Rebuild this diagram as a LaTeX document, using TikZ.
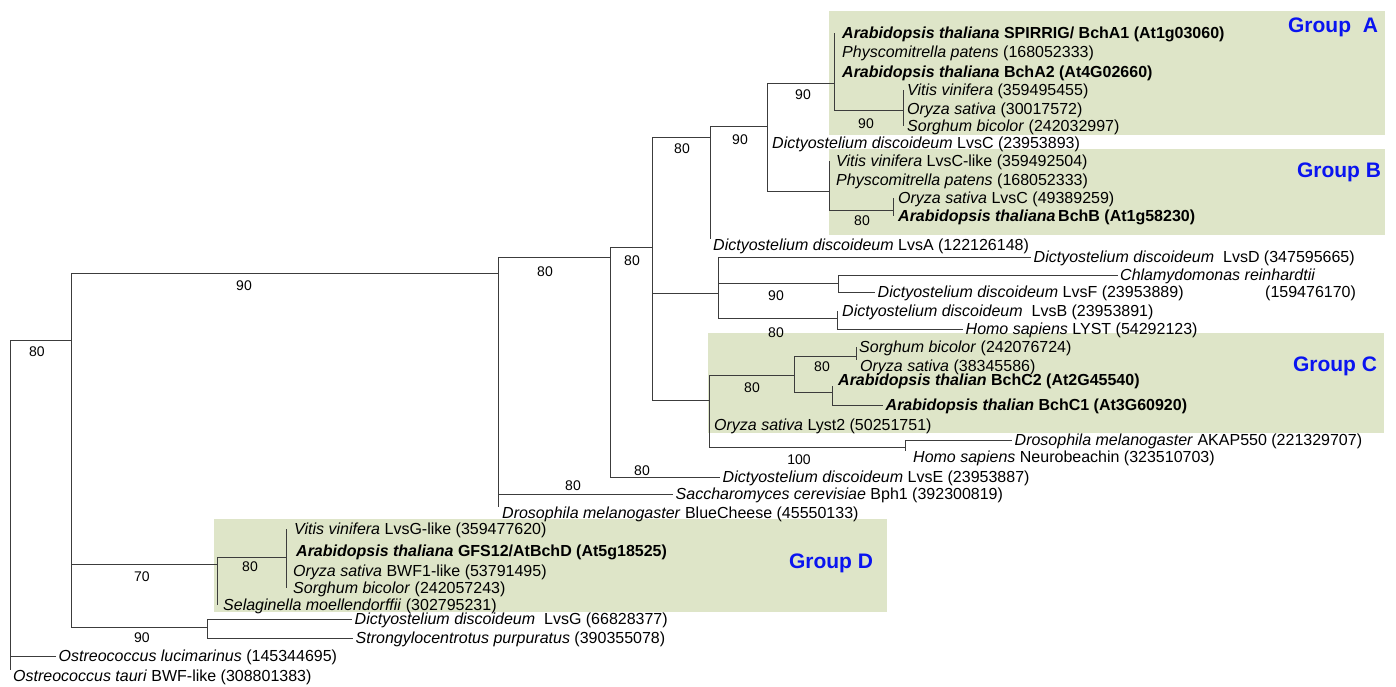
\documentclass[tikz,border=0pt]{standalone}
\usepackage{fontspec}
\setmainfont{Liberation Sans}
\definecolor{linec}{HTML}{3C3C3C}
\definecolor{grp}{HTML}{DEE5C8}
\definecolor{grpblue}{HTML}{0A14F0}
\newcommand{\spn}[1]{\textit{#1}}
\tikzset{
 br/.style={draw=linec, line width=0.95pt},
 leaf/.style={anchor=west, inner xsep=2.5pt, inner ysep=0pt, text height=11.5pt, text depth=0pt, font=\fontsize{16}{19}\selectfont},
 bleaf/.style={leaf, font=\fontsize{16}{19}\selectfont\bfseries},
 bs/.style={inner sep=0pt, font=\fontsize{14}{16}\selectfont},
 grplab/.style={inner sep=0pt, text=grpblue, font=\fontsize{21}{24}\selectfont\bfseries},
}
\begin{document}
\begin{tikzpicture}[x=1pt,y=-1pt]
\useasboundingbox (0,0) rectangle (1396,687);
\fill[white] (0,0) rectangle (1396,687);
% group boxes
\fill[grp] (829,11) rectangle (1385,135);
\fill[grp] (829,149) rectangle (1385,235);
\fill[grp] (708,333) rectangle (1384,433);
\fill[grp] (214,519) rectangle (887,612);
% group labels
\node[grplab] (gA) at (1333,27) {Group\ \ A};
\node[grplab] (gB) at (1339,172) {Group B};
\node[grplab] (gC) at (1335,366) {Group C};
\node[grplab] (gD) at (831,563) {Group D};
% internal nodes
\coordinate (r) at (10,340);
\coordinate (n1) at (71,340);
\coordinate (n2) at (498,273);
\coordinate (n3) at (610,257);
\coordinate (n4) at (652,247);
\coordinate (n7) at (710,137);
\coordinate (n8) at (767,126);
\coordinate (n9) at (834,83);
\coordinate (n10) at (903,110);
\coordinate (n11) at (829,191);
\coordinate (n12) at (893,210);
\coordinate (n5) at (718,293);
\coordinate (n13) at (838,283);
\coordinate (n14) at (837,318);
\coordinate (n6) at (709,400);
\coordinate (n15) at (794,375);
\coordinate (n16) at (856,356);
\coordinate (n17) at (832,392);
\coordinate (n18) at (905,447);
\coordinate (d1) at (217,564);
\coordinate (d2) at (286,557);
\coordinate (ng) at (207,627);
% leaves: group A
\node[bleaf] (a1) at (839.5,33) {\spn{Arabidopsis thaliana} SPIRRIG/ BchA1 (At1g03060)};
\node[leaf] (a2) at (839.5,52) {\spn{Physcomitrella patens} (168052333)};
\node[bleaf] (a3) at (839.5,72) {\spn{Arabidopsis thaliana} BchA2 (At4G02660)};
\node[leaf] (a4) at (904.5,90) {\spn{Vitis vinifera} (359495455)};
\node[leaf] (a5) at (904.5,109) {\spn{Oryza sativa} (30017572)};
\node[leaf] (a6) at (904.5,126) {\spn{Sorghum bicolor} (242032997)};
\node[leaf] (lvsc) at (769.5,143) {\spn{Dictyostelium discoideum} LvsC (23953893)};
% group B
\node[leaf] (b1) at (833.5,161) {\spn{Vitis vinifera} LvsC-like (359492504)};
\node[leaf] (b2) at (833.5,180) {\spn{Physcomitrella patens} (168052333)};
\node[leaf] (b3) at (895.5,198) {\spn{Oryza sativa} LvsC (49389259)};
\node[bleaf] (b4) at (895.5,216) {\spn{Arabidopsis thaliana}\,BchB (At1g58230)};
% middle
\node[leaf] (lvsa) at (710.5,245) {\spn{Dictyostelium discoideum} LvsA (122126148)};
\node[leaf] (lvsd) at (1031,257) {\spn{Dictyostelium discoideum}\ \ LvsD (347595665)};
\node[leaf] (chl) at (1117.5,275) {\spn{Chlamydomonas reinhardtii}};
\node[leaf] (chl2) at (1262.5,292) {(159476170)};
\node[leaf] (lvsf) at (875,292) {\spn{Dictyostelium discoideum} LvsF (23953889)};
\node[leaf] (lvsb) at (839.5,311) {\spn{Dictyostelium discoideum}\ \ LvsB (23953891)};
\node[leaf] (lyst) at (963,329) {\spn{Homo sapiens} LYST (54292123)};
% group C
\node[leaf] (c1) at (856.5,347) {\spn{Sorghum bicolor} (242076724)};
\node[leaf] (c2) at (857.5,366) {\spn{Oryza sativa} (38345586)};
\node[bleaf] (c3) at (835.5,380) {\spn{Arabidopsis thalian} BchC2 (At2G45540)};
\node[bleaf] (c4) at (883,405) {\spn{Arabidopsis thalian} BchC1 (At3G60920)};
\node[leaf] (c5) at (711.5,425) {\spn{Oryza sativa} Lyst2 (50251751)};
\node[leaf] (akap) at (1012,440) {\spn{Drosophila melanogaster} AKAP550 (221329707)};
\node[leaf] (neur) at (910.5,457) {\spn{Homo sapiens} Neurobeachin (323510703)};
\node[leaf] (lvse) at (720,477) {\spn{Dictyostelium discoideum} LvsE (23953887)};
\node[leaf] (sacc) at (673,494) {\spn{Saccharomyces cerevisiae} Bph1 (392300819)};
\node[leaf] (blue) at (499.5,513) {\spn{Drosophila melanogaster} BlueCheese (45550133)};
% group D
\node[leaf] (dv) at (291.5,529) {\spn{Vitis vinifera} LvsG-like (359477620)};
\node[bleaf] (da) at (293.5,551) {\spn{Arabidopsis thaliana} GFS12/AtBchD (At5g18525)};
\node[leaf] (dor) at (290.5,571) {\spn{Oryza sativa} BWF1-like (53791495)};
\node[leaf] (ds) at (290.5,588) {\spn{Sorghum bicolor} (242057243)};
\node[leaf] (dsel) at (220.5,605) {\spn{Selaginella moellendorffii} (302795231)};
\node[leaf] (lvsg) at (352,619) {\spn{Dictyostelium discoideum}\ \ LvsG (66828377)};
\node[leaf] (stro) at (353,638) {\spn{Strongylocentrotus purpuratus} (390355078)};
\node[leaf] (oluc) at (56,656) {\spn{Ostreococcus lucimarinus} (145344695)};
\node[leaf] (otau) at (10.5,676) {\spn{Ostreococcus tauri} BWF-like (308801383)};
% branches
\draw[br] (r) |- (n1);
\draw[br] (r) |- (oluc.west);
\draw[br] (r) -- (r |- otau.north);
\draw[br] (n1) |- (n2);
\draw[br] (n1) |- (d1);
\draw[br] (n1) |- (ng);
\draw[br] (n2) |- (n3);
\draw[br] (n2) |- (sacc.west);
\draw[br] (n2) -- (n2 |- blue.north);
\draw[br] (n3) |- (n4);
\draw[br] (n3) |- (lvse.west);
\draw[br] (n4) |- (n7);
\draw[br] (n4) |- (n5);
\draw[br] (n4) |- (n6);
\draw[br] (n7) |- (n8);
\draw[br] (n7) -- (n7 |- lvsa.north);
\draw[br] (n8) |- (n9);
\draw[br] (n8) |- (n11);
\draw[br] (n9) -- (n9 |- a1.west);
\draw[br] (n9) |- (n10);
\draw[br] (n10) -- (n10 |- a4.west);
\draw[br] (n10) -- (n10 |- a6.west);
\draw[br] (n11) -- (n11 |- b1.west);
\draw[br] (n11) |- (n12);
\draw[br] (n12) -- (n12 |- b3.west);
\draw[br] (n12) -- (n12 |- b4.west);
\draw[br] (n5) |- (lvsd.west);
\draw[br] (n5) |- (n13);
\draw[br] (n5) |- (n14);
\draw[br] (n13) |- (chl.west);
\draw[br] (n13) |- (lvsf.west);
\draw[br] (n14) -- (n14 |- lvsb.west);
\draw[br] (n14) |- (lyst.west);
\draw[br] (n6) |- (n15);
\draw[br] (n6) |- (n18);
\draw[br] (n15) |- (n16);
\draw[br] (n15) |- (n17);
\draw[br] (n16) -- (n16 |- c1.west);
\draw[br] (n16) -- (n16 |- c2.north);
\draw[br] (n17) -- (n17 |- c3.south);
\draw[br] (n17) |- (c4.west);
\draw[br] (n18) |- (akap.west);
\draw[br] (n18) -- (n18 |- neur.north);
\draw[br] (d1) |- (d2);
\draw[br] (d1) -- (d1 |- dsel.west);
\draw[br] (d2) -- (d2 |- dv.west);
\draw[br] (d2) -- (d2 |- ds.west);
\draw[br] (ng) |- (lvsg.west);
\draw[br] (ng) |- (stro.west);
% bootstrap values
\node[bs] (l1) at (37,352) {80};
\node[bs] (l2) at (244,286) {90};
\node[bs] (l3) at (545,272) {80};
\node[bs] (l4) at (573,486) {80};
\node[bs] (l5) at (632,261) {80};
\node[bs] (l6) at (642,471) {80};
\node[bs] (l7) at (682,149) {80};
\node[bs] (l8) at (740,140) {90};
\node[bs] (l9) at (803,95) {90};
\node[bs] (l10) at (866,124) {90};
\node[bs] (l11) at (862,221) {80};
\node[bs] (l12) at (776,296) {90};
\node[bs] (l13) at (776,333) {80};
\node[bs] (l14) at (752,388) {80};
\node[bs] (l15) at (822,367) {80};
\node[bs] (l16) at (799,460) {100};
\node[bs] (l17) at (250,567) {80};
\node[bs] (l18) at (142,577) {70};
\node[bs] (l19) at (142,638) {90};
\end{tikzpicture}
\end{document}
